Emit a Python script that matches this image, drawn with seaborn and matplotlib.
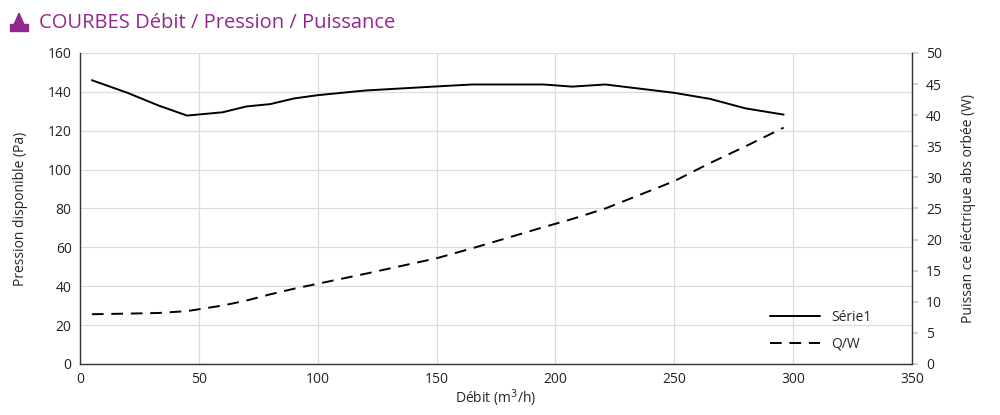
import pandas as pd
import numpy as np
import matplotlib
matplotlib.use("Agg")
import matplotlib.pyplot as plt
import seaborn as sns
from matplotlib.patches import Rectangle, Polygon

# Données
debit = [5, 20, 33, 45, 60, 70, 80, 90, 100, 120, 150, 165, 195, 207, 221, 250, 265, 280, 296]
pression = [146, 139.5, 133, 127.8, 129.5, 132.5, 133.7, 136.6, 138.3, 140.7, 142.8, 143.8, 143.8, 142.7, 143.8, 139.5, 136.4, 131.5, 128.3]
puissance = [8.0, 8.1, 8.2, 8.5, 9.4, 10.2, 11.2, 12.1, 12.9, 14.5, 17.0, 18.6, 22.0, 23.3, 25.0, 29.4, 32.3, 35.0, 38.0]

titre = "COURBES Débit / Pression / Puissance"
violet = "#93278f"

df = pd.DataFrame({"debit": debit, "pression": pression, "puissance": puissance})

sns.set_theme(style="white")
plt.rcParams["font.family"] = ["Open Sans", "DejaVu Sans"]

fig = plt.figure(figsize=(10, 4.15), dpi=100)
ax = fig.add_axes([0.08, 0.1229, 0.832, 0.7494])
ax2 = ax.twinx()

sns.lineplot(data=df, x="debit", y="pression", ax=ax, color="black", lw=1.4, label="Série1", legend=False)
sns.lineplot(data=df, x="debit", y="puissance", ax=ax2, color="black", lw=1.4, label="Q/W", legend=False)
ax2.lines[0].set_dashes([6, 4])

ax.set_xlim(0, 350)
ax.set_ylim(0, 160)
ax2.set_ylim(0, 50)
ax.set_xticks(range(0, 351, 50))
ax.set_yticks(range(0, 161, 20))
ax2.set_yticks(range(0, 51, 5))

ax.grid(True, color="#dcdcdc", lw=0.9)
ax.set_axisbelow(True)
ax2.grid(False)

for a in (ax, ax2):
    for s in a.spines.values():
        s.set_visible(False)
    a.tick_params(labelsize=10, colors="#222222")
ax.spines["left"].set_visible(True)
ax.spines["bottom"].set_visible(True)
ax2.spines["right"].set_visible(True)
for s in (ax.spines["left"], ax.spines["bottom"], ax2.spines["right"]):
    s.set_color("#333333")
    s.set_linewidth(1)
ax.tick_params(axis="both", length=0, pad=6)
ax2.tick_params(axis="y", length=4, color="#cccccc", pad=6)

ax.set_xlabel("Débit (m$^{3}$/h)", fontsize=10, labelpad=0)
ax.set_ylabel("Pression disponible (Pa)", fontsize=10, labelpad=14)
ax2.set_ylabel("Puissan ce éléctrique abs orbée (W)", fontsize=10, labelpad=14)

h1, l1 = ax.get_legend_handles_labels()
h2, l2 = ax2.get_legend_handles_labels()
ax2.legend(h1 + h2, l1 + l2, loc="lower right", bbox_to_anchor=(0.966, 0.0),
           frameon=False, fontsize=10, handlelength=3.6, labelspacing=0.85)

# titre avec petit pictogramme
fig.text(0.039, 0.945, titre, fontsize=14.5, color=violet, va="center", ha="left")
fig.patches.append(Rectangle((0.010, 0.925), 0.018, 0.016, transform=fig.transFigure, color=violet))
fig.patches.append(Polygon([[0.014, 0.941], [0.019, 0.968], [0.024, 0.941]], closed=True,
                           transform=fig.transFigure, color=violet))

fig.savefig("out.png", dpi=100)
